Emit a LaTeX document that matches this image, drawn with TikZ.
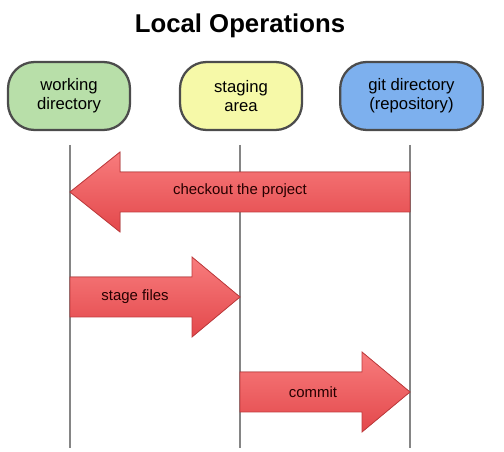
\documentclass[tikz,border=0pt]{standalone}
\usepackage{fontspec}
\setmainfont{Liberation Sans}
\definecolor{wdgreen}{HTML}{B8DFA9}
\definecolor{stageyellow}{HTML}{F6F9A8}
\definecolor{repoblue}{HTML}{7DB0EE}
\definecolor{arrowtop}{HTML}{F87C7D}
\definecolor{arrowbottom}{HTML}{E3484B}
\definecolor{arrowrim}{HTML}{C03A3C}
\begin{document}
\begin{tikzpicture}[x=0.75pt,y=-0.75pt,
	area/.style={draw=black!70, line width=1.7pt, rounded corners=20pt, minimum height=51pt, align=center, inner sep=0pt, font=\fontsize{12.5}{14.5}\selectfont},
	lifeline/.style={draw=black!48, line width=2pt},
	redarrow/.style={draw=arrowrim, line width=0.6pt, top color=arrowtop, bottom color=arrowbottom},
	steplabel/.style={font=\fontsize{11.2}{13}\selectfont, text=red!15!black}]
			\useasboundingbox (0,0) rectangle (504,452);

			\draw (240,26) node (title) [font=\fontsize{19.3}{22}\selectfont\bfseries] {Local Operations};

			\draw (69,96) node (working) [area, fill=wdgreen, minimum width=91.5pt] {working\\directory};
			\draw (241,96) node (staging) [area, fill=stageyellow, minimum width=91.5pt] {staging\\area};
			\draw (411.5,96) node (repo) [area, fill=repoblue, minimum width=107pt] {git directory\\(repository)};

			\coordinate (wtop) at (70,145);
			\coordinate (wbot) at (70,448);
			\coordinate (stop) at (240,145);
			\coordinate (sbot) at (240,448);
			\coordinate (rtop) at (410,145);
			\coordinate (rbot) at (410,448);
			\draw[lifeline]
			(wtop) -- (wbot)
			(stop) -- (sbot)
			(rtop) -- (rbot);



			\fill[redarrow] (410,172) -- (120,172) -- (120,152) -- (70,192) -- (120,232) -- (120,212) -- (410,212) -- cycle;
			\draw (240,191) node (checkout) [steplabel] {checkout the project};

			\fill[redarrow] (70,277) -- (192,277) -- (192,257) -- (240,297) -- (192,337) -- (192,317) -- (70,317) -- cycle;
			\draw (135,297) node (stage) [steplabel] {stage files};

			\fill[redarrow] (240,372) -- (362,372) -- (362,352) -- (410,392) -- (362,432) -- (362,412) -- (240,412) -- cycle;
			\draw (313,392) node (commit) [steplabel] {commit};

		\end{tikzpicture}
\end{document}
